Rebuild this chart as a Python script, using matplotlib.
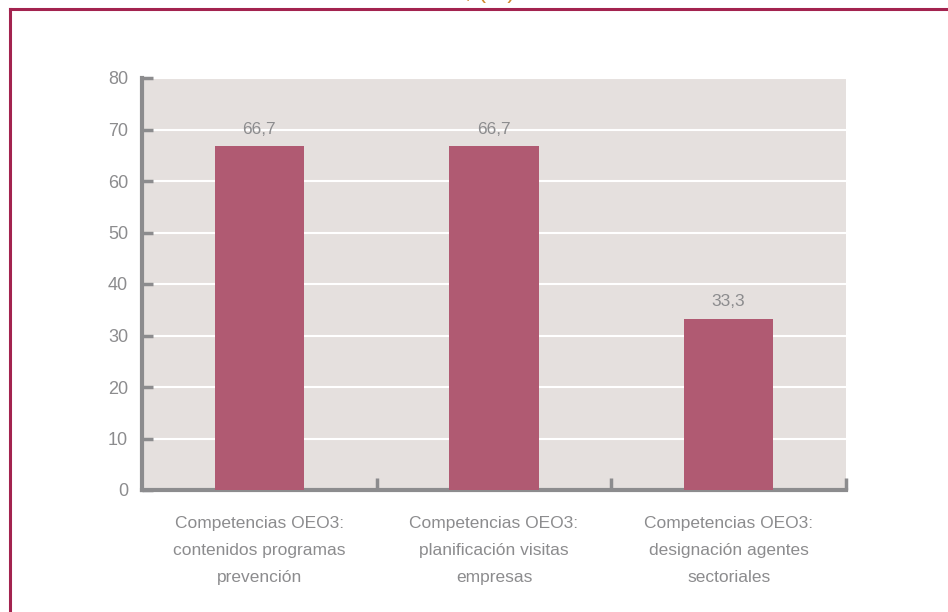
import numpy as np
import matplotlib.pyplot as plt
from matplotlib.lines import Line2D

# Data
categories = [
    "Competencias OEO3:\ncontenidos programas\nprevención",
    "Competencias OEO3:\nplanificación visitas\nempresas",
    "Competencias OEO3:\ndesignación agentes\nsectoriales",
]
values = [66.7, 66.7, 33.3]
value_labels = ["66,7", "66,7", "33,3"]
yticks = [0, 10, 20, 30, 40, 50, 60, 70, 80]

plt.rcParams['font.family'] = ['Liberation Sans Narrow', 'Liberation Sans', 'DejaVu Sans']

grey = '#8c8c8e'
fig = plt.figure(figsize=(9.48, 6.12), dpi=100)
ax = fig.add_axes([142 / 948, 1 - 490 / 612, 704 / 948, 412 / 612])

ax.set_facecolor('#e5e0de')
x = np.arange(len(categories))
ax.bar(x, values, width=0.38, color='#b05a72', zorder=3)

for xi, v, lab in zip(x, values, value_labels):
    ax.annotate(lab, (xi, v), xytext=(0, 7), textcoords='offset points',
                ha='center', va='bottom', fontsize=12.5, color=grey, zorder=4)

ax.set_xlim(-0.5, len(categories) - 0.5)
ax.set_ylim(0, 80)
ax.set_yticks(yticks)
ax.yaxis.grid(True, color='white', lw=1.5, zorder=1)
ax.set_axisbelow(True)

ax.set_xticks(x)
ax.set_xticklabels(categories, fontsize=12.5, color=grey, linespacing=2.0)
ax.tick_params(axis='x', length=0, pad=19)
# boundary ticks on x axis
ax.set_xticks([0.5, 1.5, 2.5], minor=True)
ax.tick_params(axis='x', which='minor', direction='in', length=9, width=2.5, color=grey)
ax.tick_params(axis='y', direction='in', length=8, width=2.5, color=grey,
               labelsize=13, labelcolor=grey, pad=10)

for s in ['top', 'right']:
    ax.spines[s].set_visible(False)
for s in ['left', 'bottom']:
    ax.spines[s].set_color(grey)
    ax.spines[s].set_linewidth(3)

# frame lines of the page
crimson = '#a3234f'
fig.add_artist(Line2D([10 / 948, 1.0], [1 - 8.5 / 612] * 2, color=crimson, lw=2.2,
                      transform=fig.transFigure))
fig.add_artist(Line2D([10 / 948] * 2, [0, 1 - 8.5 / 612], color=crimson, lw=2.2,
                      transform=fig.transFigure))

# title cut off at the top edge, as in the source page
fig.text(490 / 948, 1 + 8 / 612, ", (%)", ha='center', va='center', fontsize=17,
         color='#d08a2c')

fig.savefig('out.png', dpi=100)
